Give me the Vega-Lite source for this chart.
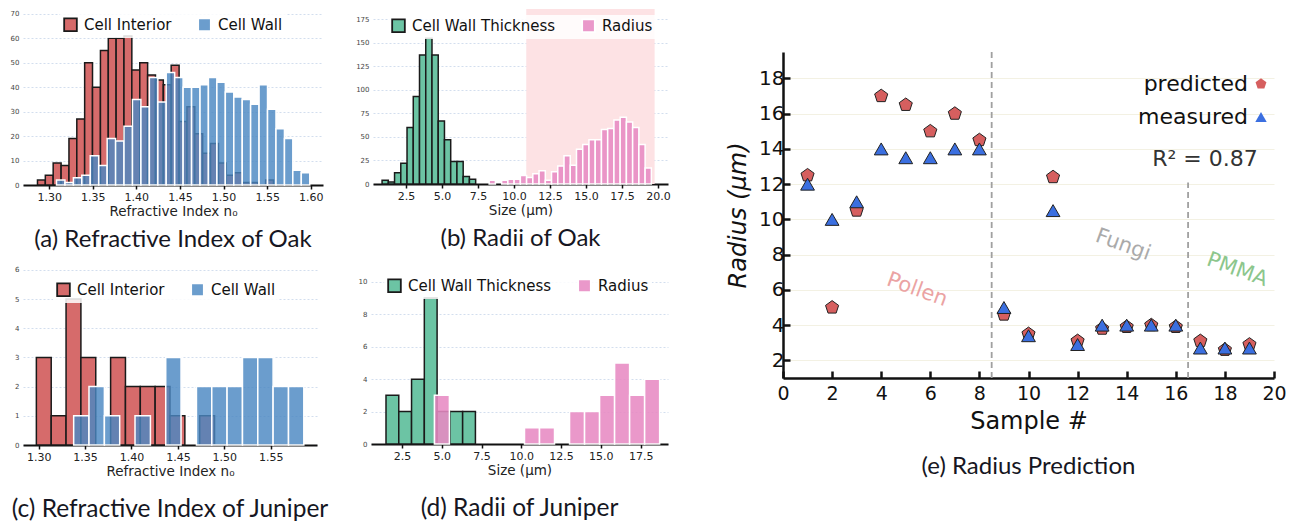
{
  "$schema": "https://vega.github.io/schema/vega-lite/v6.json",
  "background": "white",
  "padding": {"left": 10, "top": 9, "right": 0, "bottom": 0},
  "config": {
    "view": {"stroke": null},
    "font": "DejaVu Sans",
    "axis": {"labelFlush": false},
    "axisX": {"domainColor": "#111", "domainWidth": 2, "tickColor": "#111", "tickSize": 4, "tickWidth": 1.5, "labelFontSize": 11, "labelColor": "#222", "titleFontSize": 13.5, "titleFontWeight": "normal", "titleColor": "#222", "grid": false, "labelPadding": 2, "titlePadding": 2},
    "axisY": {"domain": false, "ticks": false, "labelFontSize": 7, "labelColor": "#444", "grid": true, "gridColor": "#c8d6ea", "gridDash": [2, 2], "gridWidth": 0.8, "labelPadding": 4},
    "legend": {"labelFontSize": 15, "labelColor": "#111", "columnPadding": 22, "symbolStrokeWidth": 1.8, "labelOffset": 6, "padding": 3},
    "title": {"orient": "bottom", "font": "Lato", "fontSize": 24, "fontWeight": "normal", "color": "#161622", "anchor": "middle"}
  },
  "datasets": {
    "a": [
      {"s": "Cell Interior", "x0": 1.2866, "x1": 1.2956, "n": 2},
      {"s": "Cell Interior", "x0": 1.2956, "x1": 1.3046, "n": 4},
      {"s": "Cell Interior", "x0": 1.3046, "x1": 1.3137, "n": 9},
      {"s": "Cell Interior", "x0": 1.3137, "x1": 1.3227, "n": 8},
      {"s": "Cell Interior", "x0": 1.3227, "x1": 1.3317, "n": 19},
      {"s": "Cell Interior", "x0": 1.3317, "x1": 1.3407, "n": 27},
      {"s": "Cell Interior", "x0": 1.3407, "x1": 1.3497, "n": 50},
      {"s": "Cell Interior", "x0": 1.3497, "x1": 1.3588, "n": 40},
      {"s": "Cell Interior", "x0": 1.3588, "x1": 1.3678, "n": 55},
      {"s": "Cell Interior", "x0": 1.3678, "x1": 1.3768, "n": 60},
      {"s": "Cell Interior", "x0": 1.3768, "x1": 1.3858, "n": 60},
      {"s": "Cell Interior", "x0": 1.3858, "x1": 1.3948, "n": 61},
      {"s": "Cell Interior", "x0": 1.3948, "x1": 1.4039, "n": 47},
      {"s": "Cell Interior", "x0": 1.4039, "x1": 1.4129, "n": 50},
      {"s": "Cell Interior", "x0": 1.4129, "x1": 1.4219, "n": 45},
      {"s": "Cell Interior", "x0": 1.4219, "x1": 1.4309, "n": 43},
      {"s": "Cell Interior", "x0": 1.4309, "x1": 1.4399, "n": 41},
      {"s": "Cell Interior", "x0": 1.4399, "x1": 1.449, "n": 49},
      {"s": "Cell Interior", "x0": 1.449, "x1": 1.458, "n": 26},
      {"s": "Cell Interior", "x0": 1.458, "x1": 1.467, "n": 32},
      {"s": "Cell Interior", "x0": 1.467, "x1": 1.476, "n": 21},
      {"s": "Cell Interior", "x0": 1.476, "x1": 1.485, "n": 13},
      {"s": "Cell Interior", "x0": 1.485, "x1": 1.4941, "n": 17},
      {"s": "Cell Interior", "x0": 1.4941, "x1": 1.5031, "n": 9},
      {"s": "Cell Interior", "x0": 1.5031, "x1": 1.5121, "n": 4},
      {"s": "Cell Interior", "x0": 1.5121, "x1": 1.5211, "n": 5},
      {"s": "Cell Interior", "x0": 1.5211, "x1": 1.5301, "n": 1},
      {"s": "Cell Interior", "x0": 1.5301, "x1": 1.5392, "n": 1},
      {"s": "Cell Interior", "x0": 1.5482, "x1": 1.5572, "n": 2},
      {"s": "Cell Wall", "x0": 1.3084, "x1": 1.3181, "n": 2},
      {"s": "Cell Wall", "x0": 1.3181, "x1": 1.3278, "n": 1},
      {"s": "Cell Wall", "x0": 1.3278, "x1": 1.3374, "n": 3},
      {"s": "Cell Wall", "x0": 1.3374, "x1": 1.3471, "n": 4},
      {"s": "Cell Wall", "x0": 1.3471, "x1": 1.3568, "n": 12},
      {"s": "Cell Wall", "x0": 1.3568, "x1": 1.3665, "n": 8},
      {"s": "Cell Wall", "x0": 1.3665, "x1": 1.3762, "n": 19},
      {"s": "Cell Wall", "x0": 1.3762, "x1": 1.3858, "n": 18},
      {"s": "Cell Wall", "x0": 1.3858, "x1": 1.3955, "n": 24},
      {"s": "Cell Wall", "x0": 1.3955, "x1": 1.4052, "n": 35},
      {"s": "Cell Wall", "x0": 1.4052, "x1": 1.4149, "n": 32},
      {"s": "Cell Wall", "x0": 1.4149, "x1": 1.4246, "n": 44},
      {"s": "Cell Wall", "x0": 1.4246, "x1": 1.4342, "n": 34},
      {"s": "Cell Wall", "x0": 1.4342, "x1": 1.4439, "n": 46},
      {"s": "Cell Wall", "x0": 1.4439, "x1": 1.4536, "n": 44},
      {"s": "Cell Wall", "x0": 1.4536, "x1": 1.4633, "n": 40},
      {"s": "Cell Wall", "x0": 1.4633, "x1": 1.473, "n": 40},
      {"s": "Cell Wall", "x0": 1.473, "x1": 1.4826, "n": 41},
      {"s": "Cell Wall", "x0": 1.4826, "x1": 1.4923, "n": 44},
      {"s": "Cell Wall", "x0": 1.4923, "x1": 1.502, "n": 42},
      {"s": "Cell Wall", "x0": 1.502, "x1": 1.5117, "n": 38},
      {"s": "Cell Wall", "x0": 1.5117, "x1": 1.5214, "n": 36},
      {"s": "Cell Wall", "x0": 1.5214, "x1": 1.531, "n": 35},
      {"s": "Cell Wall", "x0": 1.531, "x1": 1.5407, "n": 33},
      {"s": "Cell Wall", "x0": 1.5407, "x1": 1.5504, "n": 41},
      {"s": "Cell Wall", "x0": 1.5504, "x1": 1.5601, "n": 31},
      {"s": "Cell Wall", "x0": 1.5601, "x1": 1.5698, "n": 23},
      {"s": "Cell Wall", "x0": 1.5698, "x1": 1.5794, "n": 19},
      {"s": "Cell Wall", "x0": 1.5794, "x1": 1.5891, "n": 6},
      {"s": "Cell Wall", "x0": 1.5891, "x1": 1.5988, "n": 5}
    ],
    "b": [
      {"s": "Cell Wall Thickness", "x0": 0.831, "x1": 1.2645, "n": 4},
      {"s": "Cell Wall Thickness", "x0": 1.2645, "x1": 1.698, "n": 2},
      {"s": "Cell Wall Thickness", "x0": 1.698, "x1": 2.1315, "n": 12},
      {"s": "Cell Wall Thickness", "x0": 2.1315, "x1": 2.565, "n": 22},
      {"s": "Cell Wall Thickness", "x0": 2.565, "x1": 2.9985, "n": 60},
      {"s": "Cell Wall Thickness", "x0": 2.9985, "x1": 3.432, "n": 93},
      {"s": "Cell Wall Thickness", "x0": 3.432, "x1": 3.8655, "n": 137},
      {"s": "Cell Wall Thickness", "x0": 3.8655, "x1": 4.299, "n": 155},
      {"s": "Cell Wall Thickness", "x0": 4.299, "x1": 4.7325, "n": 137},
      {"s": "Cell Wall Thickness", "x0": 4.7325, "x1": 5.166, "n": 67},
      {"s": "Cell Wall Thickness", "x0": 5.166, "x1": 5.5995, "n": 47},
      {"s": "Cell Wall Thickness", "x0": 5.5995, "x1": 6.033, "n": 24},
      {"s": "Cell Wall Thickness", "x0": 6.033, "x1": 6.4665, "n": 24},
      {"s": "Cell Wall Thickness", "x0": 6.4665, "x1": 6.9, "n": 8},
      {"s": "Cell Wall Thickness", "x0": 6.9, "x1": 7.3335, "n": 5},
      {"s": "Radius", "x0": 8.272, "x1": 8.7055, "n": 4},
      {"s": "Radius", "x0": 9.139, "x1": 9.5725, "n": 4},
      {"s": "Radius", "x0": 9.5725, "x1": 10.006, "n": 5},
      {"s": "Radius", "x0": 10.006, "x1": 10.4395, "n": 5},
      {"s": "Radius", "x0": 10.4395, "x1": 10.873, "n": 9},
      {"s": "Radius", "x0": 10.873, "x1": 11.3065, "n": 7},
      {"s": "Radius", "x0": 11.3065, "x1": 11.74, "n": 11},
      {"s": "Radius", "x0": 11.74, "x1": 12.1735, "n": 14},
      {"s": "Radius", "x0": 12.1735, "x1": 12.607, "n": 4},
      {"s": "Radius", "x0": 12.607, "x1": 13.0405, "n": 13},
      {"s": "Radius", "x0": 13.0405, "x1": 13.474, "n": 19},
      {"s": "Radius", "x0": 13.474, "x1": 13.9075, "n": 30},
      {"s": "Radius", "x0": 13.9075, "x1": 14.341, "n": 20},
      {"s": "Radius", "x0": 14.341, "x1": 14.7745, "n": 37},
      {"s": "Radius", "x0": 14.7745, "x1": 15.208, "n": 42},
      {"s": "Radius", "x0": 15.208, "x1": 15.6415, "n": 47},
      {"s": "Radius", "x0": 15.6415, "x1": 16.075, "n": 47},
      {"s": "Radius", "x0": 16.075, "x1": 16.5085, "n": 58},
      {"s": "Radius", "x0": 16.5085, "x1": 16.942, "n": 59},
      {"s": "Radius", "x0": 16.942, "x1": 17.3755, "n": 68},
      {"s": "Radius", "x0": 17.3755, "x1": 17.809, "n": 71},
      {"s": "Radius", "x0": 17.809, "x1": 18.2425, "n": 66},
      {"s": "Radius", "x0": 18.2425, "x1": 18.676, "n": 60},
      {"s": "Radius", "x0": 18.676, "x1": 19.1095, "n": 42},
      {"s": "Radius", "x0": 19.1095, "x1": 19.543, "n": 17}
    ],
    "c": [
      {"s": "Cell Interior", "x0": 1.2975, "x1": 1.3135, "n": 3},
      {"s": "Cell Interior", "x0": 1.3135, "x1": 1.3295, "n": 1},
      {"s": "Cell Interior", "x0": 1.3295, "x1": 1.3455, "n": 5},
      {"s": "Cell Interior", "x0": 1.3455, "x1": 1.3615, "n": 3},
      {"s": "Cell Interior", "x0": 1.3775, "x1": 1.3935, "n": 3},
      {"s": "Cell Interior", "x0": 1.3935, "x1": 1.4095, "n": 2},
      {"s": "Cell Interior", "x0": 1.4095, "x1": 1.4255, "n": 2},
      {"s": "Cell Interior", "x0": 1.4255, "x1": 1.4415, "n": 2},
      {"s": "Cell Interior", "x0": 1.4415, "x1": 1.4575, "n": 1},
      {"s": "Cell Interior", "x0": 1.4735, "x1": 1.4895, "n": 1},
      {"s": "Cell Wall", "x0": 1.3377, "x1": 1.3542, "n": 1},
      {"s": "Cell Wall", "x0": 1.3542, "x1": 1.3708, "n": 2},
      {"s": "Cell Wall", "x0": 1.3708, "x1": 1.3873, "n": 1},
      {"s": "Cell Wall", "x0": 1.4038, "x1": 1.4204, "n": 1},
      {"s": "Cell Wall", "x0": 1.4369, "x1": 1.4534, "n": 3},
      {"s": "Cell Wall", "x0": 1.47, "x1": 1.4865, "n": 2},
      {"s": "Cell Wall", "x0": 1.4865, "x1": 1.503, "n": 2},
      {"s": "Cell Wall", "x0": 1.503, "x1": 1.5196, "n": 2},
      {"s": "Cell Wall", "x0": 1.5196, "x1": 1.5361, "n": 3},
      {"s": "Cell Wall", "x0": 1.5361, "x1": 1.5526, "n": 3},
      {"s": "Cell Wall", "x0": 1.5526, "x1": 1.5692, "n": 2},
      {"s": "Cell Wall", "x0": 1.5692, "x1": 1.5857, "n": 2}
    ],
    "d": [
      {"s": "Cell Wall Thickness", "x0": 1.493, "x1": 2.296, "n": 3},
      {"s": "Cell Wall Thickness", "x0": 2.296, "x1": 3.099, "n": 2},
      {"s": "Cell Wall Thickness", "x0": 3.099, "x1": 3.902, "n": 4},
      {"s": "Cell Wall Thickness", "x0": 3.902, "x1": 4.705, "n": 9},
      {"s": "Cell Wall Thickness", "x0": 4.705, "x1": 5.508, "n": 2},
      {"s": "Cell Wall Thickness", "x0": 5.508, "x1": 6.311, "n": 2},
      {"s": "Cell Wall Thickness", "x0": 6.311, "x1": 7.114, "n": 2},
      {"s": "Radius", "x0": 4.535, "x1": 5.479, "n": 3},
      {"s": "Radius", "x0": 10.199, "x1": 11.143, "n": 1},
      {"s": "Radius", "x0": 11.143, "x1": 12.087, "n": 1},
      {"s": "Radius", "x0": 13.031, "x1": 13.975, "n": 2},
      {"s": "Radius", "x0": 13.975, "x1": 14.919, "n": 2},
      {"s": "Radius", "x0": 14.919, "x1": 15.863, "n": 3},
      {"s": "Radius", "x0": 15.863, "x1": 16.807, "n": 5},
      {"s": "Radius", "x0": 16.807, "x1": 17.751, "n": 3},
      {"s": "Radius", "x0": 17.751, "x1": 18.695, "n": 4}
    ],
    "e": [
      {"i": 1, "t": "predicted", "r": 12.5}, {"i": 2, "t": "predicted", "r": 5.0}, {"i": 3, "t": "predicted", "r": 10.5},
      {"i": 4, "t": "predicted", "r": 17.0}, {"i": 5, "t": "predicted", "r": 16.5}, {"i": 6, "t": "predicted", "r": 15.0},
      {"i": 7, "t": "predicted", "r": 16.0}, {"i": 8, "t": "predicted", "r": 14.5}, {"i": 9, "t": "predicted", "r": 4.6},
      {"i": 10, "t": "predicted", "r": 3.5}, {"i": 11, "t": "predicted", "r": 12.4}, {"i": 12, "t": "predicted", "r": 3.1},
      {"i": 13, "t": "predicted", "r": 3.8}, {"i": 14, "t": "predicted", "r": 3.9}, {"i": 15, "t": "predicted", "r": 4.0},
      {"i": 16, "t": "predicted", "r": 3.9}, {"i": 17, "t": "predicted", "r": 3.1}, {"i": 18, "t": "predicted", "r": 2.6},
      {"i": 19, "t": "predicted", "r": 2.9},
      {"i": 1, "t": "measured", "r": 12.0}, {"i": 2, "t": "measured", "r": 10.0}, {"i": 3, "t": "measured", "r": 11.0},
      {"i": 4, "t": "measured", "r": 14.0}, {"i": 5, "t": "measured", "r": 13.5}, {"i": 6, "t": "measured", "r": 13.5},
      {"i": 7, "t": "measured", "r": 14.0}, {"i": 8, "t": "measured", "r": 14.0}, {"i": 9, "t": "measured", "r": 5.0},
      {"i": 10, "t": "measured", "r": 3.4}, {"i": 11, "t": "measured", "r": 10.5}, {"i": 12, "t": "measured", "r": 2.9},
      {"i": 13, "t": "measured", "r": 4.0}, {"i": 14, "t": "measured", "r": 4.0}, {"i": 15, "t": "measured", "r": 4.0},
      {"i": 16, "t": "measured", "r": 4.0}, {"i": 17, "t": "measured", "r": 2.7}, {"i": 18, "t": "measured", "r": 2.7},
      {"i": 19, "t": "measured", "r": 2.7}
    ]
  },
  "spacing": 55,
  "resolve": {"scale": {"x": "independent", "y": "independent", "fill": "independent", "stroke": "independent", "shape": "independent"}, "legend": {"fill": "independent", "stroke": "independent", "shape": "independent"}},
  "hconcat": [
    {
      "spacing": 12,
      "resolve": {"scale": {"x": "independent", "y": "independent", "fill": "independent", "stroke": "independent"}, "legend": {"fill": "independent", "stroke": "independent"}},
      "vconcat": [
        {
          "bounds": "flush",
          "spacing": 50,
          "resolve": {"scale": {"x": "independent", "y": "independent", "fill": "independent", "stroke": "independent"}, "legend": {"fill": "independent", "stroke": "independent"}},
          "hconcat": [
            {
              "width": 300, "height": 176,
              "title": {"text": "(a) Refractive Index of Oak", "offset": 10},
              "data": {"name": "a"},
              "mark": {"type": "rect", "strokeWidth": 1.5},
              "encoding": {
                "x": {"field": "x0", "type": "quantitative", "scale": {"domain": [1.27, 1.614], "nice": false, "zero": false}, "axis": {"values": [1.3, 1.35, 1.4, 1.45, 1.5, 1.55, 1.6], "format": ".2f", "title": "Refractive Index n₀"}},
                "x2": {"field": "x1"},
                "y": {"field": "n", "type": "quantitative", "scale": {"domain": [0, 72], "nice": false}, "axis": {"values": [0, 10, 20, 30, 40, 50, 60, 70], "title": null}},
                "y2": {"datum": 0},
                "fill": {"field": "s", "type": "nominal", "scale": {"domain": ["Cell Interior", "Cell Wall"], "range": ["#d66b6b", "rgba(74,135,194,0.82)"]}, "legend": {"title": null, "orient": "none", "direction": "horizontal", "legendX": 37, "legendY": 5, "symbolType": "square", "symbolSize": 160, "fillColor": "rgba(255,255,255,0.85)"}},
                "stroke": {"field": "s", "type": "nominal", "scale": {"domain": ["Cell Interior", "Cell Wall"], "range": ["#1a1a1a", "#ffffff"]}, "legend": {"title": null, "orient": "none", "direction": "horizontal", "legendX": 37, "legendY": 5, "symbolType": "square", "symbolSize": 160, "fillColor": "rgba(255,255,255,0.85)"}}
              }
            },
            {
              "width": 295, "height": 175,
              "title": {"text": "(b) Radii of Oak", "offset": 10},
              "layer": [
                {
                  "data": {"values": [{"lo": 10.85, "hi": 19.77}]},
                  "mark": {"type": "rect", "color": "#fde2e4"},
                  "encoding": {
                    "x": {"field": "lo", "type": "quantitative", "scale": {"domain": [0.2, 20.7], "nice": false, "zero": false}, "axis": {"values": [2.5, 5, 7.5, 10, 12.5, 15, 17.5, 20], "format": ".1f", "title": "Size (μm)"}},
                    "x2": {"field": "hi"}
                  }
                },
                {
                  "data": {"name": "b"},
                  "mark": {"type": "rect", "strokeWidth": 1.5},
                  "encoding": {
                    "x": {"field": "x0", "type": "quantitative", "scale": {"domain": [0.2, 20.7], "nice": false, "zero": false}, "axis": {"values": [2.5, 5, 7.5, 10, 12.5, 15, 17.5, 20], "format": ".1f", "title": "Size (μm)"}},
                    "x2": {"field": "x1"},
                    "y": {"field": "n", "type": "quantitative", "scale": {"domain": [0, 186], "nice": false}, "axis": {"values": [0, 25, 50, 75, 100, 125, 150, 175], "title": null}},
                    "y2": {"datum": 0},
                    "fill": {"field": "s", "type": "nominal", "scale": {"domain": ["Cell Wall Thickness", "Radius"], "range": ["#6cc4a4", "rgba(231,138,195,0.88)"]}, "legend": {"title": null, "orient": "none", "direction": "horizontal", "legendX": 15, "legendY": 6, "symbolType": "square", "symbolSize": 160, "fillColor": "rgba(255,255,255,0.85)"}},
                    "stroke": {"field": "s", "type": "nominal", "scale": {"domain": ["Cell Wall Thickness", "Radius"], "range": ["#1a1a1a", "#ffffff"]}, "legend": {"title": null, "orient": "none", "direction": "horizontal", "legendX": 15, "legendY": 6, "symbolType": "square", "symbolSize": 160, "fillColor": "rgba(255,255,255,0.85)"}}
                  }
                }
              ]
            }
          ]
        },
        {
          "bounds": "flush",
          "spacing": 54,
          "resolve": {"scale": {"x": "independent", "y": "independent", "fill": "independent", "stroke": "independent"}, "legend": {"fill": "independent", "stroke": "independent"}},
          "hconcat": [
            {
              "width": 294, "height": 181,
              "title": {"text": "(c) Refractive Index of Juniper", "offset": 20, "fontSize": 24.5},
              "data": {"name": "c"},
              "mark": {"type": "rect", "strokeWidth": 1.5},
              "encoding": {
                "x": {"field": "x0", "type": "quantitative", "scale": {"domain": [1.2831, 1.5999], "nice": false, "zero": false}, "axis": {"values": [1.3, 1.35, 1.4, 1.45, 1.5, 1.55, 1.6], "format": ".2f", "title": "Refractive Index n₀"}},
                "x2": {"field": "x1"},
                "y": {"field": "n", "type": "quantitative", "scale": {"domain": [0, 6.2], "nice": false}, "axis": {"values": [0, 1, 2, 3, 4, 5, 6], "title": null}},
                "y2": {"datum": 0},
                "fill": {"field": "s", "type": "nominal", "scale": {"domain": ["Cell Interior", "Cell Wall"], "range": ["#d66b6b", "rgba(74,135,194,0.82)"]}, "legend": {"title": null, "orient": "none", "direction": "horizontal", "legendX": 30, "legendY": 15, "symbolType": "square", "symbolSize": 160, "fillColor": "rgba(255,255,255,0.85)"}},
                "stroke": {"field": "s", "type": "nominal", "scale": {"domain": ["Cell Interior", "Cell Wall"], "range": ["#1a1a1a", "#ffffff"]}, "legend": {"title": null, "orient": "none", "direction": "horizontal", "legendX": 30, "legendY": 15, "symbolType": "square", "symbolSize": 160, "fillColor": "rgba(255,255,255,0.85)"}}
              }
            },
            {
              "width": 297, "height": 180,
              "title": {"text": "(d) Radii of Juniper", "offset": 20, "fontSize": 24.5},
              "data": {"name": "d"},
              "mark": {"type": "rect", "strokeWidth": 1.5},
              "encoding": {
                "x": {"field": "x0", "type": "quantitative", "scale": {"domain": [0.55, 19.22], "nice": false, "zero": false}, "axis": {"values": [2.5, 5, 7.5, 10, 12.5, 15, 17.5], "format": ".1f", "title": "Size (μm)"}},
                "x2": {"field": "x1"},
                "y": {"field": "n", "type": "quantitative", "scale": {"domain": [0, 11.1], "nice": false}, "axis": {"values": [0, 2, 4, 6, 8, 10], "title": null}},
                "y2": {"datum": 0},
                "fill": {"field": "s", "type": "nominal", "scale": {"domain": ["Cell Wall Thickness", "Radius"], "range": ["#6cc4a4", "rgba(231,138,195,0.88)"]}, "legend": {"title": null, "orient": "none", "direction": "horizontal", "legendX": 13, "legendY": 11, "symbolType": "square", "symbolSize": 160, "fillColor": "rgba(255,255,255,0.85)"}},
                "stroke": {"field": "s", "type": "nominal", "scale": {"domain": ["Cell Wall Thickness", "Radius"], "range": ["#1a1a1a", "#ffffff"]}, "legend": {"title": null, "orient": "none", "direction": "horizontal", "legendX": 13, "legendY": 11, "symbolType": "square", "symbolSize": 160, "fillColor": "rgba(255,255,255,0.85)"}}
              }
            }
          ]
        }
      ]
    },
    {
      "bounds": "flush",
      "spacing": 0,
      "resolve": {"scale": {"x": "independent", "y": "independent", "fill": "independent", "shape": "independent"}, "legend": {"fill": "independent", "shape": "independent"}},
      "vconcat": [
        {
          "width": 491, "height": 43,
          "view": {"fill": "white", "stroke": null},
          "data": {"values": []},
          "mark": "point"
        },
        {
          "width": 491, "height": 326,
          "title": {"text": "(e) Radius Prediction", "offset": 22},
          "layer": [
            {
              "data": {"values": [{"x": 8.5}]},
              "mark": {"type": "rule", "color": "#a0a0a0", "strokeWidth": 1.8, "strokeDash": [6, 4]},
              "encoding": {"x": {"field": "x", "type": "quantitative"}}
            },
            {
              "data": {"values": [{"x": 16.5, "y0": 1, "y1": 12.1}]},
              "mark": {"type": "rule", "color": "#a0a0a0", "strokeWidth": 1.8, "strokeDash": [6, 4]},
              "encoding": {"x": {"field": "x", "type": "quantitative"}, "y": {"field": "y0", "type": "quantitative"}, "y2": {"field": "y1"}}
            },
            {
              "data": {"values": [{"label": "Pollen", "x": 5.46, "y": 6.0}]},
              "mark": {"type": "text", "color": "#eba3a3", "fontSize": 21, "angle": 20, "font": "DejaVu Sans"},
              "encoding": {"x": {"field": "x", "type": "quantitative"}, "y": {"field": "y", "type": "quantitative"}, "text": {"field": "label"}}
            },
            {
              "data": {"values": [{"label": "Fungi", "x": 13.85, "y": 8.55}]},
              "mark": {"type": "text", "color": "#aaaaaa", "fontSize": 21, "angle": 20, "font": "DejaVu Sans"},
              "encoding": {"x": {"field": "x", "type": "quantitative"}, "y": {"field": "y", "type": "quantitative"}, "text": {"field": "label"}}
            },
            {
              "data": {"values": [{"label": "PMMA", "x": 18.5, "y": 7.13}]},
              "mark": {"type": "text", "color": "#8cc68c", "fontSize": 21, "angle": 20, "font": "DejaVu Sans"},
              "encoding": {"x": {"field": "x", "type": "quantitative"}, "y": {"field": "y", "type": "quantitative"}, "text": {"field": "label"}}
            },
            {
              "data": {"values": [{"label": "R² = 0.87", "x": 17.19, "y": 13.4}]},
              "mark": {"type": "text", "color": "#333333", "fontSize": 22, "font": "DejaVu Sans"},
              "encoding": {"x": {"field": "x", "type": "quantitative"}, "y": {"field": "y", "type": "quantitative"}, "text": {"field": "label"}}
            },
            {
              "data": {"name": "e"},
              "mark": {"type": "point", "filled": true, "stroke": "#222222", "strokeWidth": 1, "size": 190, "opacity": 1},
              "encoding": {
                "x": {"field": "i", "type": "quantitative", "scale": {"domain": [0, 20], "nice": false, "zero": false}, "axis": {"values": [0, 2, 4, 6, 8, 10, 12, 14, 16, 18, 20], "title": "Sample #", "labelFontSize": 19, "titleFontSize": 24, "domainWidth": 2.5, "tickSize": -7, "tickWidth": 2.5, "labelPadding": 13, "titlePadding": 6, "labelColor": "#111", "titleColor": "#111", "labelFlush": false}},
                "y": {"field": "r", "type": "quantitative", "scale": {"domain": [1, 19.5], "nice": false, "zero": false}, "axis": {"values": [2, 4, 6, 8, 10, 12, 14, 16, 18], "title": "Radius (μm)", "titleFontStyle": "italic", "titleFontSize": 24, "titleFontWeight": "normal", "titleColor": "#111", "labelFontSize": 20, "labelColor": "#111", "domain": true, "domainColor": "#111", "domainWidth": 2.5, "ticks": true, "tickColor": "#111", "tickSize": -7, "tickWidth": 2.5, "grid": true, "gridColor": "#f3f1e3", "gridDash": [], "gridWidth": 1, "labelPadding": 6, "titlePadding": 8, "labelFlush": false}},
                "fill": {"field": "t", "type": "nominal", "scale": {"domain": ["predicted", "measured"], "range": ["#d65f5f", "#3b6fe0"]}, "legend": {"title": null, "orient": "none", "direction": "vertical", "legendX": 467, "legendY": 21, "labelAlign": "right", "labelOffset": -24, "labelFontSize": 22, "labelColor": "#111", "symbolSize": 130, "symbolStrokeColor": "#222222", "symbolStrokeWidth": 1, "padding": 0, "rowPadding": 11}},
                "shape": {"field": "t", "type": "nominal", "scale": {"domain": ["predicted", "measured"], "range": ["M0,-1L0.951,-0.309L0.588,0.809L-0.588,0.809L-0.951,-0.309Z", "triangle-up"]}, "legend": {"title": null, "orient": "none", "direction": "vertical", "legendX": 467, "legendY": 21, "labelAlign": "right", "labelOffset": -24, "labelFontSize": 22, "labelColor": "#111", "symbolSize": 130, "symbolStrokeColor": "#222222", "symbolStrokeWidth": 1, "padding": 0, "rowPadding": 11}}
              }
            }
          ]
        }
      ]
    }
  ]
}
